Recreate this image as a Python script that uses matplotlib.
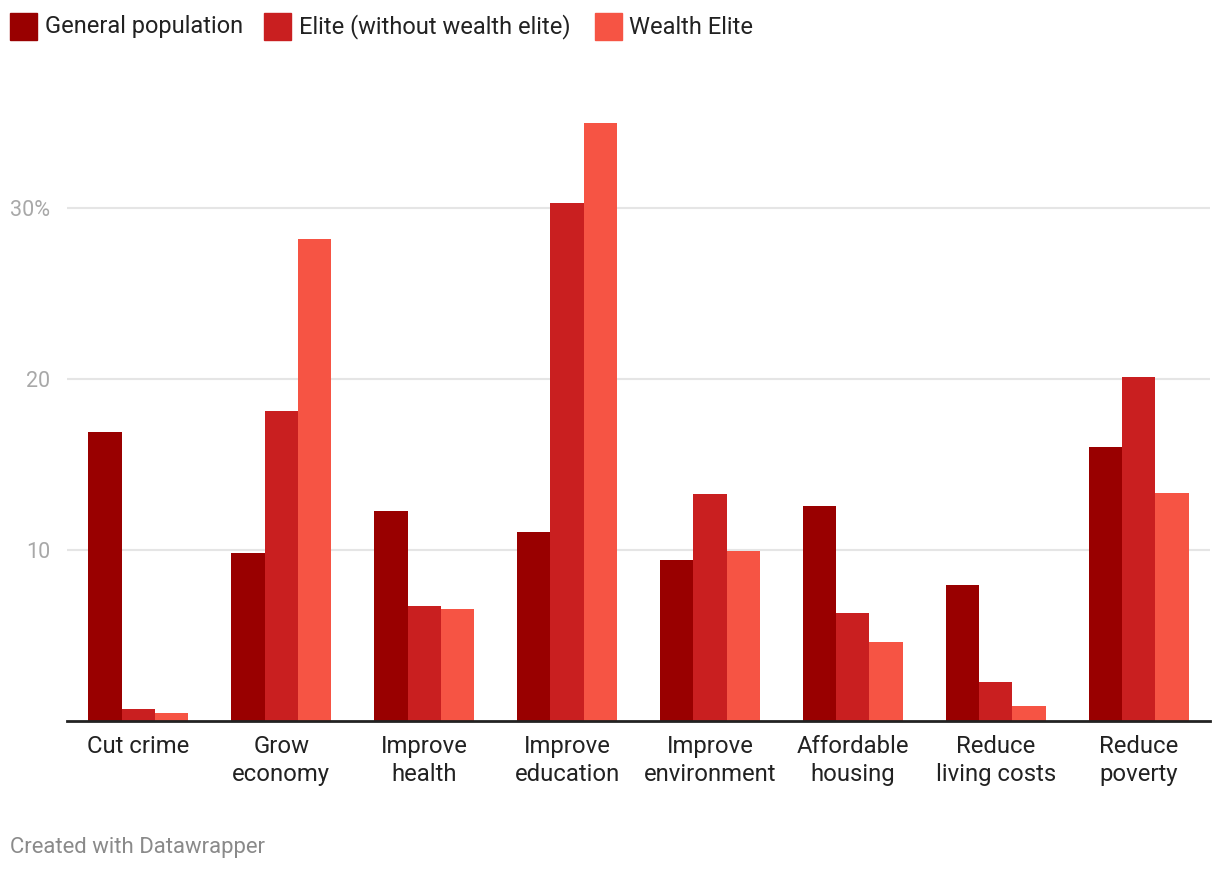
import matplotlib
matplotlib.use("Agg")
import matplotlib.pyplot as plt
from matplotlib.patches import Rectangle
import numpy as np

categories = ["Cut crime", "Grow\neconomy", "Improve\nhealth", "Improve\neducation",
              "Improve\nenvironment", "Affordable\nhousing", "Reduce\nliving costs", "Reduce\npoverty"]
series_names = ["General population", "Elite (without wealth elite)", "Wealth Elite"]
general = [16.9, 9.8, 12.3, 11.05, 9.4, 12.6, 7.95, 16.0]
elite = [0.7, 18.1, 6.7, 30.3, 13.3, 6.3, 2.3, 20.1]
wealth = [0.47, 28.2, 6.55, 35.0, 9.95, 4.6, 0.85, 13.35]
colors = ["#990000", "#c91f20", "#f65444"]
yticks = [10, 20, 30]
ytick_labels = ["10", "20", "30%"]

plt.rcParams['font.family'] = ['Roboto', 'DejaVu Sans']

W, H = 1220, 872
fig = plt.figure(figsize=(W/100, H/100), dpi=100)
ymax = 36
ax_bottom = 721
ax_top = ax_bottom - ymax * 17.1
ax = fig.add_axes([67/W, (H-ax_bottom)/H, (1210-67)/W, (ax_bottom-ax_top)/H])

x = np.arange(len(categories))
bw = 0.7/3
for i, (vals, c) in enumerate(zip([general, elite, wealth], colors)):
    ax.bar(x + (i-1)*bw, vals, width=bw, color=c, zorder=3, linewidth=0)

ax.set_xlim(-0.5, len(categories)-0.5)
ax.set_ylim(0, ymax)
ax.set_yticks(yticks)
ax.set_yticklabels(ytick_labels)
ax.yaxis.grid(True, color="#e5e5e5", linewidth=1.5, zorder=0)
ax.tick_params(axis='y', length=0, pad=12, labelsize=15.5, labelcolor="#a8a8a8")
ax.set_xticks(x)
ax.set_xticklabels(categories, linespacing=1.28)
ax.tick_params(axis='x', length=0, pad=10, labelsize=17.2, labelcolor="#222222")
for s in ["top", "right", "left"]:
    ax.spines[s].set_visible(False)
ax.spines["bottom"].set_color("#222222")
ax.spines["bottom"].set_linewidth(2)
ax.spines["bottom"].set_zorder(4)
ax.set_axisbelow(True)

# legend (manual, Datawrapper style)
sq_x = [10, 264, 595]
txt_x = [45, 299, 629]
for name, c, sx, tx in zip(series_names, colors, sq_x, txt_x):
    fig.patches.append(Rectangle((sx/W, (H-40)/H), 27/W, 27/H, transform=fig.transFigure,
                                 color=c, figure=fig))
    fig.text(tx/W, (H-27)/H, name, fontsize=17, color="#222222", va="center", ha="left")

fig.text(10/W, (H-847)/H, "Created with Datawrapper", fontsize=15.9, color="#8a8a8a",
         va="center", ha="left")

fig.savefig("out.png", dpi=100, facecolor="white")
